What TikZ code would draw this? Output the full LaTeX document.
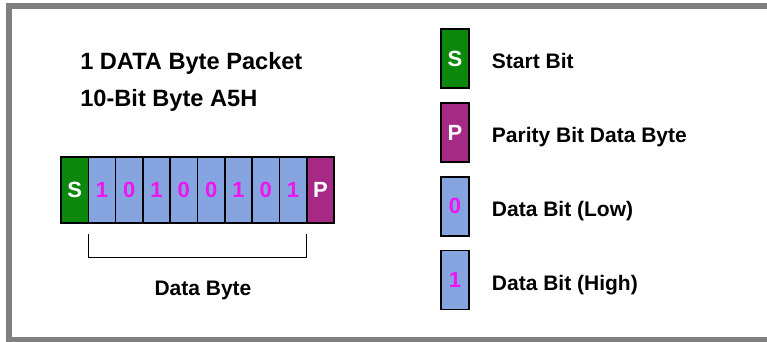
\documentclass[tikz,border=0pt]{standalone}
\usepackage{fontspec}
\setmainfont{Liberation Sans}
\usetikzlibrary{positioning}

\definecolor{startgreen}{RGB}{12,137,12}
\definecolor{paritypurple}{RGB}{166,42,133}
\definecolor{databl}{RGB}{134,165,224}
\definecolor{bitmagenta}{RGB}{240,20,240}
\definecolor{framegray}{RGB}{128,128,128}

\begin{document}
\begin{tikzpicture}[x = 1pt, y = 1pt, % work in pixels of the reference
                node distance = 14.7pt, % gap between legend boxes
                semithick % line style
            ]

            \tikzstyle{bitcell}=[draw = black, line width = 1.6pt,
            minimum width = 27.3pt, minimum height = 66pt, inner sep = 0pt,
            outer sep = 0pt, font = \bfseries\fontsize{22}{25}\selectfont]
            \tikzstyle{startbit}=[bitcell, fill = startgreen, text = white]
            \tikzstyle{paritybit}=[bitcell, fill = paritypurple, text = white]
            \tikzstyle{databit}=[bitcell, fill = databl, text = bitmagenta]
            \tikzstyle{legbox}=[minimum width = 28.3pt, minimum height = 59pt]
            \tikzstyle{legtext}=[inner sep = 0pt, anchor = base west,
            font = \bfseries\fontsize{21}{24}\selectfont]
            \tikzstyle{titletext}=[inner sep = 0pt, anchor = base west,
            font = \bfseries\fontsize{23.6}{27}\selectfont]

            \useasboundingbox (0,0) rectangle (767,-342);
            \clip (0,0) rectangle (767,-342);

            % outer frame
            \draw[framegray, line width = 6pt] (9,-6) rectangle (790,-339.5);

            % headings
            \node[titletext] (head1) at (80,-69.5) {1 DATA Byte Packet};
            \node[titletext] (head2) at (80,-106.5) {10-Bit Byte A5H};

            % the packet
            \node[startbit] (d0) at (74.65,-190) {S};
            \foreach \b [count = \i, evaluate = \i as \j using int(\i-1)] in
            {1,0,1,0,0,1,0,1}
                \node[databit, right = 0pt of d\j] (d\i) {\b};
            \node[paritybit, right = 0pt of d8] (par) {P};

            % bracket under the data bits
            \draw[line width = 1.4pt, black] ([yshift = -10.5pt]d1.south west)
            -- ++(0,-24) -| ([yshift = -10.5pt]d8.south east);
            \node[legtext, anchor = base] (dbyte) at (203,-295) {Data Byte};

            % legend
            \node[startbit, legbox] (lgS) at (455,-58.8) {S};
            \node[paritybit, legbox, below = of lgS] (lgP) {P};
            \node[databit, legbox, below = of lgP] (lg0) {0};
            \node[databit, legbox, below = of lg0] (lg1) {1};

            \node[legtext, right = 22.5pt of lgS, anchor = base west,
            yshift = -10.2pt] (txS) {Start Bit};
            \node[legtext, right = 22.5pt of lgP, anchor = base west,
            yshift = -10.2pt] (txP) {Parity Bit Data Byte};
            \node[legtext, right = 22.5pt of lg0, anchor = base west,
            yshift = -10.2pt] (tx0) {Data Bit (Low)};
            \node[legtext, right = 22.5pt of lg1, anchor = base west,
            yshift = -10.2pt] (tx1) {Data Bit (High)};
        \end{tikzpicture}
\end{document}
